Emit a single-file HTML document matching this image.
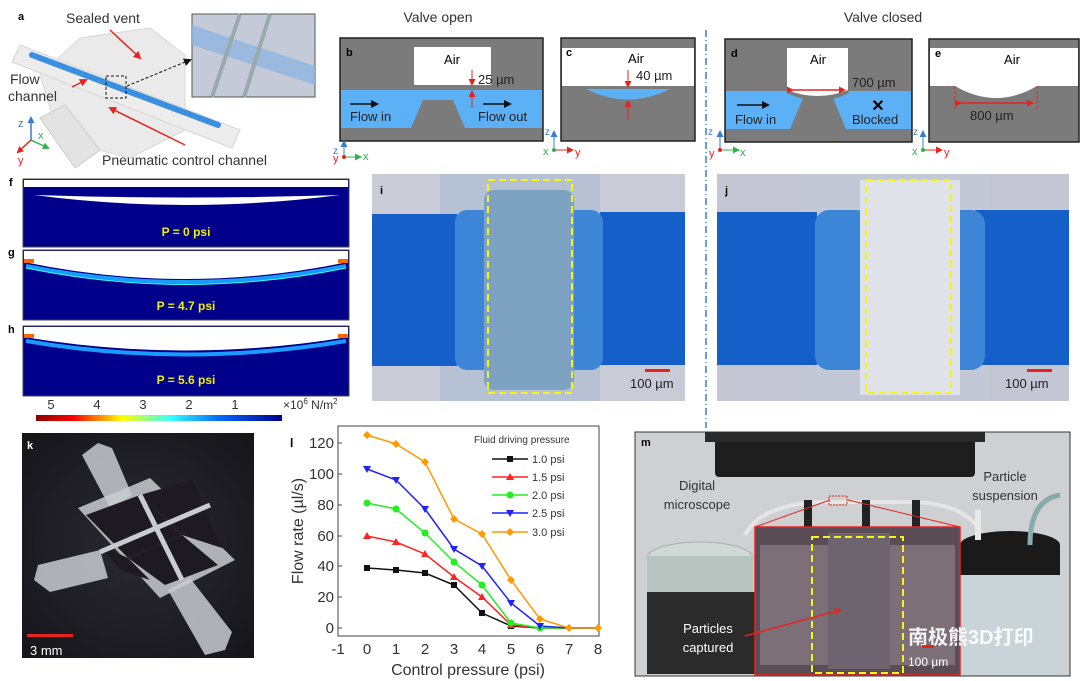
<!DOCTYPE html>
<html><head><meta charset="utf-8"><style>
html,body{margin:0;padding:0;background:#fff}
svg{display:block}
text{font-family:"Liberation Sans","Noto Sans CJK SC",sans-serif}
</style></head><body>
<svg width="1080" height="681" viewBox="0 0 1080 681" xmlns="http://www.w3.org/2000/svg">
<defs>
<marker id="ar" markerWidth="8" markerHeight="8" refX="6" refY="4" orient="auto" markerUnits="userSpaceOnUse"><path d="M0,0 L8,4 L0,8z" fill="#e8231f"/></marker>
<marker id="ak" markerWidth="8" markerHeight="8" refX="6" refY="4" orient="auto" markerUnits="userSpaceOnUse"><path d="M0,0 L8,4 L0,8z" fill="#111"/></marker>
<marker id="ab" markerWidth="7" markerHeight="7" refX="5" refY="3.5" orient="auto" markerUnits="userSpaceOnUse"><path d="M0,0 L7,3.5 L0,7z" fill="#3a7bd5"/></marker>
<marker id="ag" markerWidth="7" markerHeight="7" refX="5" refY="3.5" orient="auto" markerUnits="userSpaceOnUse"><path d="M0,0 L7,3.5 L0,7z" fill="#2db34a"/></marker>
<marker id="arr" markerWidth="7" markerHeight="7" refX="5" refY="3.5" orient="auto" markerUnits="userSpaceOnUse"><path d="M0,0 L7,3.5 L0,7z" fill="#e8231f"/></marker>
<linearGradient id="cb" x1="0" x2="1"><stop offset="0" stop-color="#8b0000"/><stop offset=".15" stop-color="#f00"/><stop offset=".35" stop-color="#ff0"/><stop offset=".55" stop-color="#3ff"/><stop offset=".75" stop-color="#06f"/><stop offset="1" stop-color="#00008b"/></linearGradient>
<radialGradient id="kb" cx=".5" cy=".5" r=".7"><stop offset="0" stop-color="#2a2a30"/><stop offset="1" stop-color="#15151a"/></radialGradient>
</defs>

<!-- a -->
<text x="18" y="20" font-size="11" font-weight="bold">a</text>
<text x="66" y="23" font-size="14" fill="#333">Sealed vent</text>
<g opacity="0.9">
<polygon points="80,38 150,28 185,55 185,130 130,158 60,140 40,75" fill="#e8e8e8" stroke="#d4d4d4"/>
<polygon points="20,45 240,130 232,148 12,62" fill="#ececec" stroke="#d2d2d2"/>
<polygon points="40,118 65,105 100,150 75,168" fill="#e0e0e0" stroke="#c8c8c8"/>
</g>
<line x1="32" y1="55" x2="218" y2="125" stroke="#3b8fe0" stroke-width="6" stroke-linecap="round"/>
<rect x="106" y="76" width="20" height="22" fill="none" stroke="#111" stroke-dasharray="3,2"/>
<line x1="127" y1="86" x2="190" y2="60" stroke="#111" stroke-dasharray="3,2" marker-end="url(#ak)"/>
<rect x="192" y="14" width="123" height="83" fill="#c5cad8" stroke="#555"/>
<polygon points="192,25 315,66 315,85 192,45" fill="#8fb4e0" opacity=".8"/>
<line x1="240" y1="14" x2="212" y2="97" stroke="#9aa" stroke-width="4"/>
<line x1="270" y1="14" x2="244" y2="97" stroke="#9aa" stroke-width="4"/>
<text x="10" y="84" font-size="14" fill="#333">Flow</text>
<text x="8" y="101" font-size="14" fill="#333">channel</text>
<line x1="72" y1="87" x2="86" y2="80" stroke="#e8231f" stroke-width="1.5" marker-end="url(#ar)"/>
<line x1="110" y1="30" x2="140" y2="58" stroke="#e8231f" stroke-width="1.5" marker-end="url(#ar)"/>
<line x1="185" y1="145" x2="110" y2="108" stroke="#e8231f" stroke-width="1.5" marker-end="url(#ar)"/>
<text x="102" y="165" font-size="14" fill="#333">Pneumatic control channel</text>
<line x1="31" y1="140" x2="31" y2="118" stroke="#3a7bd5" stroke-width="1.5" marker-end="url(#ab)"/>
<text x="18" y="127" font-size="11" fill="#3a7bd5">z</text>
<line x1="31" y1="140" x2="48" y2="148" stroke="#2db34a" stroke-width="1.5" marker-end="url(#ag)"/>
<text x="38" y="139" font-size="11" fill="#2db34a">x</text>
<line x1="31" y1="140" x2="18" y2="152" stroke="#e8231f" stroke-width="1.5" marker-end="url(#arr)"/>
<text x="18" y="164" font-size="11" fill="#e8231f">y</text>

<!-- titles -->
<text x="438" y="22" font-size="14" fill="#333" text-anchor="middle">Valve open</text>
<text x="883" y="22" font-size="14" fill="#333" text-anchor="middle">Valve closed</text>
<line x1="706" y1="30" x2="706" y2="428" stroke="#3a7bd5" stroke-width="1.5" stroke-dasharray="7,3,1,3"/>

<!-- b -->
<rect x="340" y="38" width="203" height="103" fill="#7b7b7b" stroke="#222" stroke-width="1.5"/>
<rect x="341" y="90" width="201" height="38" fill="#5cb0f5"/>
<polygon points="411,128 423,100 453,100 465,128" fill="#7b7b7b"/>
<rect x="414" y="47" width="77" height="38" fill="#fff"/>
<text x="346" y="56" font-size="11" font-weight="bold">b</text>
<text x="452" y="64" font-size="13" text-anchor="middle">Air</text>
<text x="478" y="84" font-size="13" fill="#222">25 µm</text>
<line x1="472" y1="70" x2="472" y2="84" stroke="#e8231f" marker-end="url(#arr)"/>
<line x1="472" y1="108" x2="472" y2="92" stroke="#e8231f" marker-end="url(#arr)"/>
<line x1="350" y1="104" x2="377" y2="104" stroke="#111" stroke-width="1.5" marker-end="url(#ak)"/>
<text x="350" y="121" font-size="13" fill="#222">Flow in</text>
<line x1="483" y1="104" x2="510" y2="104" stroke="#111" stroke-width="1.5" marker-end="url(#ak)"/>
<text x="478" y="121" font-size="13" fill="#222">Flow out</text>
<line x1="344" y1="157" x2="344" y2="142" stroke="#3a7bd5" marker-end="url(#ab)"/><text x="333" y="154" font-size="10" fill="#3a7bd5">z</text>
<line x1="344" y1="157" x2="360" y2="157" stroke="#2db34a" marker-end="url(#ag)"/><text x="363" y="160" font-size="11" fill="#2db34a">x</text>
<circle cx="344" cy="157" r="2" fill="#e8231f"/><text x="333" y="162" font-size="11" fill="#e8231f">y</text>

<!-- c -->
<rect x="561" y="38" width="134" height="103" fill="#7b7b7b" stroke="#222" stroke-width="1.5"/>
<rect x="562" y="48" width="132" height="38" fill="#fff"/>
<path d="M586,89 Q628,110 670,89 Z" fill="#5cb0f5"/>
<text x="566" y="56" font-size="11" font-weight="bold">c</text>
<text x="636" y="63" font-size="13" text-anchor="middle">Air</text>
<text x="636" y="80" font-size="13" fill="#222">40 µm</text>
<line x1="628" y1="70" x2="628" y2="86" stroke="#e8231f" marker-end="url(#arr)"/>
<line x1="628" y1="120" x2="628" y2="102" stroke="#e8231f" marker-end="url(#arr)"/>
<line x1="554" y1="150" x2="554" y2="132" stroke="#3a7bd5" marker-end="url(#ab)"/><text x="545" y="135" font-size="10" fill="#3a7bd5">z</text>
<line x1="554" y1="150" x2="572" y2="150" stroke="#e8231f" marker-end="url(#arr)"/><text x="575" y="156" font-size="11" fill="#e8231f">y</text>
<circle cx="554" cy="150" r="2" fill="#2db34a"/><text x="543" y="155" font-size="11" fill="#2db34a">x</text>

<!-- d -->
<rect x="725" y="39" width="187" height="103" fill="#7b7b7b" stroke="#222" stroke-width="1.5"/>
<rect x="726" y="91" width="185" height="38" fill="#5cb0f5"/>
<polygon points="790,129 803,98 833,98 846,129" fill="#7b7b7b"/>
<path d="M787,93 Q818,108 849,93 L849,90 L787,90Z" fill="#7b7b7b"/>
<path d="M787,48 L848,48 L848,90 Q818,102 787,90 Z" fill="#fff"/>
<text x="731" y="57" font-size="11" font-weight="bold">d</text>
<text x="818" y="64" font-size="13" text-anchor="middle">Air</text>
<text x="852" y="87" font-size="13" fill="#222">700 µm</text>
<line x1="792" y1="90" x2="844" y2="90" stroke="#e8231f" stroke-width="1.5" marker-end="url(#arr)" marker-start="url(#arr)"/>
<line x1="737" y1="105" x2="768" y2="105" stroke="#111" stroke-width="1.5" marker-end="url(#ak)"/>
<text x="735" y="124" font-size="13" fill="#222">Flow in</text>
<text x="878" y="111" font-size="16" font-weight="bold" text-anchor="middle">✕</text>
<text x="852" y="124" font-size="13" fill="#222">Blocked</text>
<line x1="720" y1="150" x2="720" y2="132" stroke="#3a7bd5" marker-end="url(#ab)"/><text x="708" y="135" font-size="10" fill="#3a7bd5">z</text>
<line x1="720" y1="150" x2="738" y2="150" stroke="#2db34a" marker-end="url(#ag)"/><text x="740" y="156" font-size="11" fill="#2db34a">x</text>
<circle cx="720" cy="150" r="2" fill="#e8231f"/><text x="709" y="157" font-size="11" fill="#e8231f">y</text>

<!-- e -->
<rect x="929" y="39" width="150" height="103" fill="#7b7b7b" stroke="#222" stroke-width="1.5"/>
<path d="M930,48 L1078,48 L1078,86 L1037,86 Q996,110 955,86 L930,86Z" fill="#fff"/>
<text x="935" y="57" font-size="11" font-weight="bold">e</text>
<text x="1012" y="64" font-size="13" text-anchor="middle">Air</text>
<line x1="955" y1="86" x2="955" y2="110" stroke="#e8231f" stroke-dasharray="3,2"/>
<line x1="1037" y1="86" x2="1037" y2="110" stroke="#e8231f" stroke-dasharray="3,2"/>
<line x1="960" y1="103" x2="1032" y2="103" stroke="#e8231f" stroke-width="1.5" marker-end="url(#arr)" marker-start="url(#arr)"/>
<text x="970" y="120" font-size="13" fill="#222">800 µm</text>
<line x1="923" y1="150" x2="923" y2="132" stroke="#3a7bd5" marker-end="url(#ab)"/><text x="913" y="135" font-size="10" fill="#3a7bd5">z</text>
<line x1="923" y1="150" x2="941" y2="150" stroke="#e8231f" marker-end="url(#arr)"/><text x="944" y="156" font-size="11" fill="#e8231f">y</text>
<circle cx="923" cy="150" r="2" fill="#2db34a"/><text x="912" y="155" font-size="11" fill="#2db34a">x</text>

<!-- f g h -->
<text x="9" y="186" font-size="11" font-weight="bold">f</text>
<rect x="23" y="179" width="326" height="68" fill="#00008b" stroke="#444"/>
<rect x="24" y="180" width="324" height="7" fill="#fff"/>
<path d="M34,195 Q186,215 340,195 Q186,200 34,195Z" fill="#fff"/>
<text x="186" y="236" font-size="12" font-weight="bold" fill="#f0f000" text-anchor="middle">P = 0 psi</text>

<text x="8" y="256" font-size="11" font-weight="bold">g</text>
<rect x="23" y="250" width="326" height="70" fill="#00008b" stroke="#444"/>
<path d="M24,251 L348,251 L348,262 Q186,296 24,262Z" fill="#fff"/>
<path d="M26,266 Q186,298 346,266" fill="none" stroke="#1a9cff" stroke-width="4"/>
<path d="M26,268 Q186,301 346,268" fill="none" stroke="#3ff" stroke-width="1"/>
<rect x="24" y="259" width="10" height="4" fill="#f60"/><rect x="338" y="259" width="10" height="4" fill="#f60"/>
<text x="186" y="310" font-size="12" font-weight="bold" fill="#f0f000" text-anchor="middle">P = 4.7 psi</text>

<text x="8" y="333" font-size="11" font-weight="bold">h</text>
<rect x="23" y="326" width="326" height="70" fill="#00008b" stroke="#444"/>
<path d="M24,327 L348,327 L348,337 Q186,364 24,337Z" fill="#fff"/>
<path d="M26,341 Q186,368 346,341" fill="none" stroke="#1a9cff" stroke-width="4"/>
<rect x="24" y="334" width="10" height="4" fill="#f60"/><rect x="338" y="334" width="10" height="4" fill="#f60"/>
<text x="186" y="384" font-size="12" font-weight="bold" fill="#f0f000" text-anchor="middle">P = 5.6 psi</text>

<rect x="36" y="415" width="246" height="6" fill="url(#cb)"/>
<g font-size="13" fill="#333" text-anchor="middle"><text x="51" y="409">5</text><text x="97" y="409">4</text><text x="143" y="409">3</text><text x="189" y="409">2</text><text x="235" y="409">1</text></g>
<text x="283" y="409" font-size="12" fill="#333">×10<tspan font-size="8" dy="-5">6</tspan><tspan dy="5"> N/m</tspan><tspan font-size="8" dy="-5">2</tspan></text>

<!-- i -->
<rect x="372" y="174" width="313" height="227" fill="#c9cbd6"/>
<rect x="440" y="174" width="160" height="227" fill="#b6c2d4"/>
<rect x="372" y="214" width="85" height="152" fill="#1560c8"/>
<rect x="600" y="212" width="85" height="153" fill="#1560c8"/>
<rect x="455" y="210" width="40" height="160" rx="12" fill="#3d85d6"/>
<rect x="565" y="210" width="38" height="160" rx="12" fill="#3d85d6"/>
<rect x="484" y="190" width="90" height="200" rx="10" fill="#7ea2c2"/>
<rect x="488" y="180" width="84" height="213" fill="none" stroke="#f5f51a" stroke-width="2" stroke-dasharray="7,4"/>
<text x="380" y="194" font-size="11" font-weight="bold">i</text>
<rect x="645" y="369" width="25" height="3" fill="#e8231f"/>
<text x="630" y="388" font-size="13" fill="#222">100 µm</text>

<!-- j -->
<rect x="717" y="174" width="352" height="227" fill="#c4c6d3"/>
<rect x="800" y="174" width="190" height="227" fill="#c2c8d6"/>
<rect x="717" y="212" width="100" height="153" fill="#1560c8"/>
<rect x="975" y="210" width="94" height="155" fill="#1560c8"/>
<rect x="815" y="210" width="55" height="160" rx="14" fill="#3d85d6"/>
<rect x="945" y="210" width="40" height="160" rx="14" fill="#3d85d6"/>
<rect x="860" y="180" width="100" height="215" fill="#dfe2e8"/>
<rect x="866" y="180" width="85" height="213" fill="none" stroke="#f5f51a" stroke-width="2" stroke-dasharray="7,4"/>
<text x="725" y="194" font-size="11" font-weight="bold">j</text>
<rect x="1027" y="369" width="25" height="3" fill="#e8231f"/>
<text x="1005" y="388" font-size="13" fill="#222">100 µm</text>

<!-- k -->
<rect x="22" y="433" width="232" height="225" fill="url(#kb)"/>
<g fill="#d2d6da" opacity=".8">
<polygon points="82,455 98,443 112,448 132,495 110,508"/>
<polygon points="34,580 38,565 100,550 108,578 50,592"/>
<polygon points="168,590 190,578 232,632 225,650 205,655"/>
</g>
<polygon points="78,508 150,478 235,560 160,598" fill="#c8ccd0" opacity=".85"/>
<polygon points="86,515 140,495 182,535 128,558" fill="#1d1a22"/>
<polygon points="140,495 192,480 222,548 182,535" fill="#1d1a22"/>
<polygon points="128,558 182,535 218,565 165,585" fill="#1d1a22"/>
<polygon points="100,545 128,558 150,580 120,570" fill="#1d1a22"/>
<line x1="100" y1="552" x2="210" y2="505" stroke="#c8ccd0" stroke-width="5"/>
<line x1="140" y1="495" x2="182" y2="580" stroke="#c8ccd0" stroke-width="5"/>
<text x="27" y="449" font-size="11" font-weight="bold" fill="#fff">k</text>
<rect x="27" y="634" width="46" height="3" fill="#e8231f"/>
<text x="30" y="655" font-size="13" fill="#fff">3 mm</text>

<!-- l chart -->
<rect x="338" y="426" width="261" height="210" fill="none" stroke="#444"/>
<text x="290" y="447" font-size="12" font-weight="bold">l</text>
<g stroke="#444">
<line x1="338" y1="628" x2="342" y2="628"/><line x1="338" y1="597" x2="342" y2="597"/><line x1="338" y1="566" x2="342" y2="566"/><line x1="338" y1="536" x2="342" y2="536"/><line x1="338" y1="505" x2="342" y2="505"/><line x1="338" y1="474" x2="342" y2="474"/><line x1="338" y1="443" x2="342" y2="443"/>
</g>
<g font-size="15" fill="#333" text-anchor="end">
<text x="334" y="633">0</text><text x="334" y="602">20</text><text x="334" y="571">40</text><text x="334" y="541">60</text><text x="334" y="510">80</text><text x="334" y="479">100</text><text x="334" y="448">120</text>
</g>
<g font-size="15" fill="#333" text-anchor="middle">
<text x="338" y="654">-1</text><text x="367" y="654">0</text><text x="396" y="654">1</text><text x="425" y="654">2</text><text x="454" y="654">3</text><text x="482" y="654">4</text><text x="511" y="654">5</text><text x="540" y="654">6</text><text x="569" y="654">7</text><text x="598" y="654">8</text>
</g>
<text x="468" y="675" font-size="16" fill="#333" text-anchor="middle">Control pressure (psi)</text>
<text transform="translate(303,531) rotate(-90)" font-size="16" fill="#333" text-anchor="middle">Flow rate (µl/s)</text>
<g fill="none" stroke-width="1.5">
<polyline stroke="#111" points="367,568 396,570 425,573 454,585 482,613 511,626 540,628 569,628 598,628"/>
<polyline stroke="#f22" points="367,536 396,542 425,554 454,577 482,597 511,625 540,628 569,628 598,628"/>
<polyline stroke="#2e2" points="367,503 396,509 425,533 454,562 482,585 511,623 540,628 569,628 598,628"/>
<polyline stroke="#22f" points="367,469 396,480 425,509 454,549 482,566 511,603 540,626 569,628 598,628"/>
<polyline stroke="#f90" points="367,435 396,444 425,462 454,519 482,534 511,580 540,619 569,628 598,628"/>
</g>
<g fill="#111"><rect x="364" y="565" width="6" height="6"/><rect x="393" y="567" width="6" height="6"/><rect x="422" y="570" width="6" height="6"/><rect x="451" y="582" width="6" height="6"/><rect x="479" y="610" width="6" height="6"/><rect x="508" y="623" width="6" height="6"/></g>
<g fill="#f22"><path d="M367,532l4,7h-8z"/><path d="M396,538l4,7h-8z"/><path d="M425,550l4,7h-8z"/><path d="M454,573l4,7h-8z"/><path d="M482,593l4,7h-8z"/><path d="M511,621l4,7h-8z"/></g>
<g fill="#2e2"><circle cx="367" cy="503" r="3.5"/><circle cx="396" cy="509" r="3.5"/><circle cx="425" cy="533" r="3.5"/><circle cx="454" cy="562" r="3.5"/><circle cx="482" cy="585" r="3.5"/><circle cx="511" cy="623" r="3.5"/><circle cx="540" cy="628" r="3.5"/></g>
<g fill="#22f"><path d="M363,466h8l-4,7z"/><path d="M392,477h8l-4,7z"/><path d="M421,506h8l-4,7z"/><path d="M450,546h8l-4,7z"/><path d="M478,563h8l-4,7z"/><path d="M507,600h8l-4,7z"/><path d="M536,623h8l-4,7z"/></g>
<g fill="#f90"><path d="M367,431l4,4l-4,4l-4,-4z"/><path d="M396,440l4,4l-4,4l-4,-4z"/><path d="M425,458l4,4l-4,4l-4,-4z"/><path d="M454,515l4,4l-4,4l-4,-4z"/><path d="M482,530l4,4l-4,4l-4,-4z"/><path d="M511,576l4,4l-4,4l-4,-4z"/><path d="M540,615l4,4l-4,4l-4,-4z"/><path d="M569,624l4,4l-4,4l-4,-4z"/><path d="M598,624l4,4l-4,4l-4,-4z"/></g>
<text x="474" y="443" font-size="10" fill="#333">Fluid driving pressure</text>
<g font-size="11" fill="#333">
<line x1="492" y1="459" x2="528" y2="459" stroke="#111" stroke-width="1.5"/><rect x="507" y="456" width="6" height="6" fill="#111"/><text x="532" y="463">1.0 psi</text>
<line x1="492" y1="477" x2="528" y2="477" stroke="#f22" stroke-width="1.5"/><path d="M510,473l4,7h-8z" fill="#f22"/><text x="532" y="481">1.5 psi</text>
<line x1="492" y1="495" x2="528" y2="495" stroke="#2e2" stroke-width="1.5"/><circle cx="510" cy="495" r="3.5" fill="#2e2"/><text x="532" y="499">2.0 psi</text>
<line x1="492" y1="513" x2="528" y2="513" stroke="#22f" stroke-width="1.5"/><path d="M506,510h8l-4,7z" fill="#22f"/><text x="532" y="517">2.5 psi</text>
<line x1="492" y1="532" x2="528" y2="532" stroke="#f90" stroke-width="1.5"/><path d="M510,528l4,4l-4,4l-4,-4z" fill="#f90"/><text x="532" y="536">3.0 psi</text>
</g>

<!-- m -->
<rect x="635" y="432" width="435" height="244" fill="#cfd0d2" stroke="#333"/>
<rect x="715" y="432" width="260" height="45" rx="4" fill="#1e1e1e"/>
<rect x="705" y="432" width="280" height="10" fill="#2a2a2a"/>
<path d="M745,535 Q760,505 820,502 L900,502 Q960,500 980,530" fill="none" stroke="#e5e5e5" stroke-width="4"/>
<rect x="804" y="500" width="8" height="40" fill="#222"/><rect x="862" y="500" width="8" height="40" fill="#222"/><rect x="912" y="500" width="8" height="40" fill="#222"/>
<ellipse cx="700" cy="558" rx="53" ry="16" fill="#cfdad6" stroke="#aaa"/>
<rect x="647" y="556" width="106" height="36" fill="#b8c4c0"/>
<rect x="647" y="592" width="111" height="82" fill="#2b2b2b"/>
<rect x="960" y="550" width="100" height="125" fill="#c8d4d8"/>
<ellipse cx="1010" cy="545" rx="50" ry="14" fill="#1a1a1a"/>
<rect x="960" y="545" width="100" height="30" fill="#1a1a1a"/>
<path d="M1030,545 Q1030,500 1060,495" fill="none" stroke="#8aa" stroke-width="5"/>
<rect x="975" y="510" width="6" height="30" fill="#e8e8e8"/>
<rect x="755" y="527" width="205" height="148" fill="#5a4d55" stroke="#e8231f" stroke-width="1.5"/>
<rect x="760" y="545" width="195" height="120" fill="#7d6f78"/>
<rect x="828" y="533" width="62" height="136" fill="#6e6470"/>
<rect x="812" y="537" width="91" height="136" fill="none" stroke="#f5f51a" stroke-width="2" stroke-dasharray="7,4"/>
<line x1="830" y1="500" x2="755" y2="527" stroke="#e8231f"/><line x1="848" y1="500" x2="960" y2="527" stroke="#e8231f"/>
<rect x="829" y="496" width="18" height="9" fill="none" stroke="#e8231f" stroke-dasharray="2,1"/>
<text x="641" y="446" font-size="11" font-weight="bold">m</text>
<text x="697" y="490" font-size="13" fill="#333" text-anchor="middle">Digital</text>
<text x="697" y="509" font-size="13" fill="#333" text-anchor="middle">microscope</text>
<text x="1005" y="481" font-size="13" fill="#333" text-anchor="middle">Particle</text>
<text x="1005" y="500" font-size="13" fill="#333" text-anchor="middle">suspension</text>
<text x="708" y="633" font-size="13" fill="#fff" text-anchor="middle">Particles</text>
<text x="708" y="652" font-size="13" fill="#fff" text-anchor="middle">captured</text>
<line x1="745" y1="636" x2="840" y2="610" stroke="#e8231f" stroke-width="1.5" marker-end="url(#arr)"/>
<text x="908" y="644" font-size="20" font-weight="bold" fill="#fff" opacity=".92">南极熊3D打印</text>
<rect x="922" y="645" width="12" height="3" fill="#e8231f"/>
<text x="908" y="666" font-size="12" fill="#fff">100 µm</text>
</svg>
</body></html>
